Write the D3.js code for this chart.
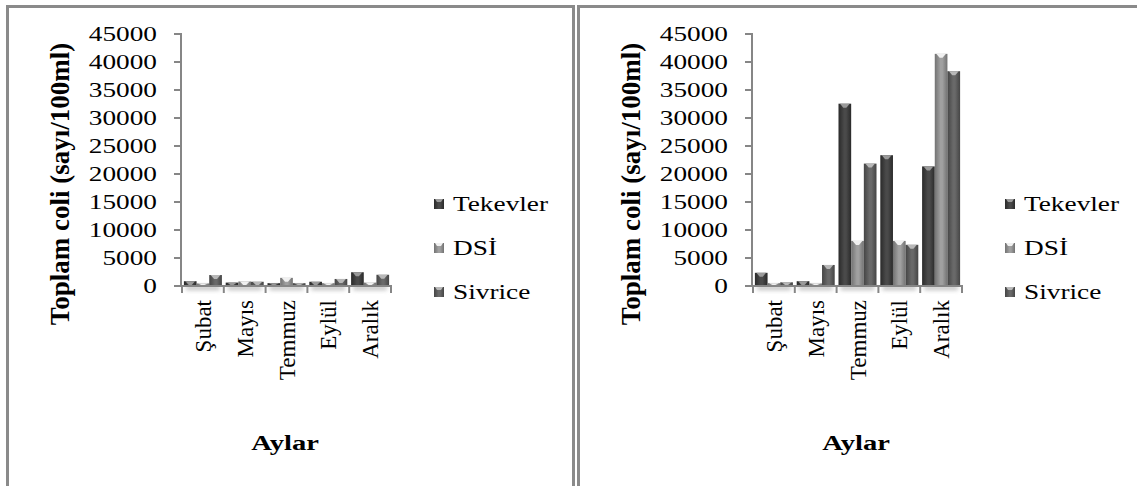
<!DOCTYPE html>
<html>
<head>
<meta charset="utf-8">
<script src="https://cdn.jsdelivr.net/npm/d3@7"></script>
<style>
  html, body { margin: 0; padding: 0; background: #fff; }
  svg { display: block; }
  text { font-family: "Liberation Serif", "Times New Roman", serif; fill: #000; }
</style>
</head>
<body>
<svg id="chart" width="1137" height="486"></svg>
<script>
// Months sampled
const months = ["Şubat", "Mayıs", "Temmuz", "Eylül", "Aralık"];
// Sampling stations
const stations = ["Tekevler", "DSİ", "Sivrice"];
// Total coliform counts, first sampling period (per station, per month)
const tekevlerA = [500, 250, 150, 400, 2100];
const dsiA      = [100, 450, 1100, 150, 250];
const sivriceA  = [1600, 400, 150, 900, 1650];
// Total coliform counts, second sampling period
const tekevlerB = [2000, 500, 32200, 23000, 21000];
const dsiB      = [150, 100, 7700, 7700, 41100];
const sivriceB  = [300, 3400, 21500, 7000, 38000];
// Y axis ticks
const yTicks = [0, 5000, 10000, 15000, 20000, 25000, 30000, 35000, 40000, 45000];
const yTitle = "Toplam coli (sayı/100ml)";
const xTitle = "Aylar";

const panels = [
  { dx: 0,   series: [tekevlerA, dsiA, sivriceA] },
  { dx: 571, series: [tekevlerB, dsiB, sivriceB] }
];

// Bar shading per station: edge, centre, top bevel
const shades = [
  { edge: "#2a2a2a", mid: "#4a4a4a", cap: "#9a9a9a" },
  { edge: "#727272", mid: "#a0a0a0", cap: "#f0f0f0" },
  { edge: "#454545", mid: "#696969", cap: "#b8b8b8" }
];

const svg = d3.select("#chart");
const defs = svg.append("defs");
shades.forEach((s, i) => {
  const g = defs.append("linearGradient").attr("id", "bar" + i)
    .attr("x1", "0%").attr("x2", "100%").attr("y1", "0%").attr("y2", "0%");
  g.append("stop").attr("offset", "0%").attr("stop-color", s.edge);
  g.append("stop").attr("offset", "45%").attr("stop-color", s.mid);
  g.append("stop").attr("offset", "60%").attr("stop-color", s.mid);
  g.append("stop").attr("offset", "100%").attr("stop-color", s.edge);
});
defs.append("filter").attr("id", "soft").attr("x", "-50%").attr("y", "-200%")
  .attr("width", "200%").attr("height", "500%")
  .append("feGaussianBlur").attr("stdDeviation", 2.2);

const SX = 1.3;   // horizontal stretch of the lettering
const axisColor = "#868686";

// Panel frames
svg.append("rect").attr("x", 7.5).attr("y", 6.5).attr("width", 566).attr("height", 520)
  .attr("fill", "none").attr("stroke", "#8a8a8a").attr("stroke-width", 3);
svg.append("rect").attr("x", 578.5).attr("y", 6.5).attr("width", 620).attr("height", 520)
  .attr("fill", "none").attr("stroke", "#8a8a8a").attr("stroke-width", 3);

const y = d3.scaleLinear().domain([0, 45000]).range([286, 34]);

panels.forEach(p => {
  const g = svg.append("g").attr("transform", `translate(${p.dx},0)`);
  const x0 = d3.scaleBand().domain(months).range([182, 391]).paddingInner(0).paddingOuter(0);
  const x1 = d3.scaleBand().domain(stations).range([0, x0.bandwidth()]).paddingOuter(0.15).paddingInner(0);

  // soft floor shadow under each group
  months.forEach(m => {
    g.append("rect")
      .attr("x", x0(m) + 4).attr("y", 286).attr("width", x0.bandwidth() - 8).attr("height", 4)
      .attr("fill", "#bdbdbd").attr("filter", "url(#soft)");
  });

  // bars
  p.series.forEach((vals, si) => {
    const s = shades[si];
    const bars = g.append("g");
    vals.forEach((v, mi) => {
      const bx = x0(months[mi]) + x1(stations[si]);
      const bw = x1.bandwidth();
      const top = y(v) - 2;
      const h = Math.max(286 - top, 2);
      bars.append("rect").attr("x", bx).attr("y", top).attr("width", bw).attr("height", h)
        .attr("fill", `url(#bar${si})`);
      // bevelled top
      const capH = Math.min(4, h - 1);
      if (capH > 1) {
        bars.append("path")
          .attr("d", `M${bx + 1.5},${top} L${bx + bw - 1.5},${top} L${bx + bw / 2 + 1.5},${top + capH} L${bx + bw / 2 - 1.5},${top + capH}Z`)
          .attr("fill", s.cap);
      }
    });
  });

  // y axis
  g.append("line").attr("x1", 181).attr("x2", 181).attr("y1", 33).attr("y2", 287)
    .attr("stroke", axisColor).attr("stroke-width", 2);
  yTicks.forEach(t => {
    g.append("line").attr("x1", 174).attr("x2", 181).attr("y1", y(t)).attr("y2", y(t))
      .attr("stroke", axisColor).attr("stroke-width", 2);
    g.append("text").attr("transform", `translate(157,${y(t) + 7}) scale(${SX},1)`)
      .attr("text-anchor", "end").attr("font-size", 21).text(t);
  });

  // x axis
  g.append("line").attr("x1", 181).attr("x2", 392).attr("y1", 286).attr("y2", 286)
    .attr("stroke", axisColor).attr("stroke-width", 2);
  months.concat([null]).forEach(m => {
    const xx = m ? x0(m) : x0.range()[1];
    g.append("line").attr("x1", xx).attr("x2", xx).attr("y1", 286).attr("y2", 293)
      .attr("stroke", axisColor).attr("stroke-width", 2);
  });
  months.forEach(m => {
    const cx = x0(m) + x0.bandwidth() / 2 + 8;
    g.append("text").attr("transform", `translate(${cx},300) rotate(-90)`)
      .attr("text-anchor", "end").attr("font-size", 23).text(m);
  });

  // axis titles
  g.append("text").attr("transform", `translate(${69},${184}) rotate(-90)`)
    .attr("text-anchor", "middle").attr("font-size", 27).attr("font-weight", "bold").text(yTitle);
  g.append("text").attr("transform", `translate(285,450) scale(${SX},1)`)
    .attr("text-anchor", "middle").attr("font-size", 22).attr("font-weight", "bold").text(xTitle);

  // legend
  const ly = [204, 248, 292];
  stations.forEach((st, si) => {
    const s = shades[si];
    g.append("rect").attr("x", 434).attr("y", ly[si] - 5).attr("width", 10).attr("height", 10)
      .attr("fill", `url(#bar${si})`);
    g.append("path")
      .attr("d", `M${435},${ly[si] - 5} L${443},${ly[si] - 5} L${441},${ly[si] - 2} L${437},${ly[si] - 2}Z`)
      .attr("fill", s.cap);
    g.append("text").attr("transform", `translate(453,${ly[si] + 7}) scale(${SX},1)`)
      .attr("font-size", 21).text(st);
  });
});
</script>
</body>
</html>
